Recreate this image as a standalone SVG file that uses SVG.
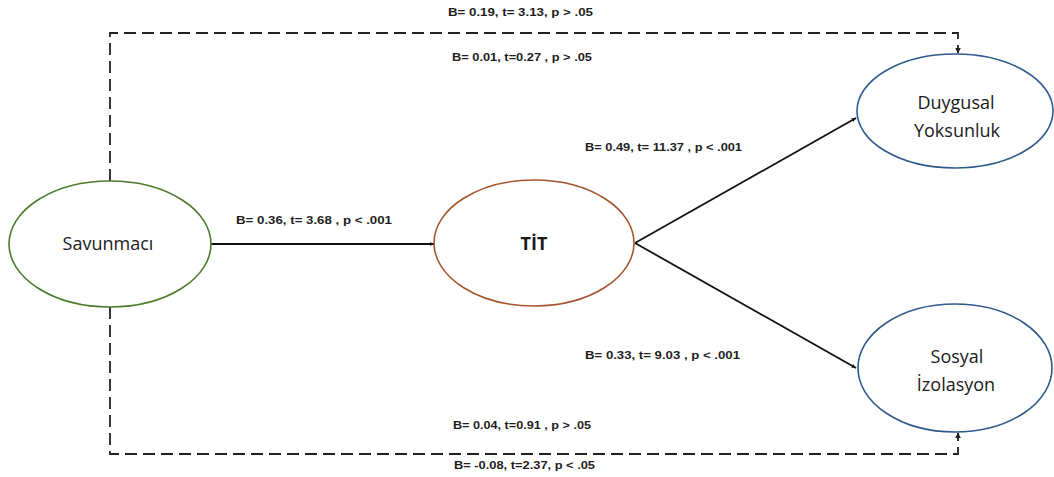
<svg xmlns="http://www.w3.org/2000/svg" width="1054" height="477" viewBox="0 0 1054 477">
  <style>
    .node { fill: #ffffff; stroke-width: 1.6; }
    .green { stroke: #4f7a2c; }
    .brown { stroke: #a4562e; }
    .blue { stroke: #2f5a8c; }
    .solid { fill: none; stroke: #111111; stroke-width: 1.8; }
    .dash { fill: none; stroke: #222222; stroke-width: 1.8; stroke-dasharray: 12 6; }
    .lbl { font-family: "Liberation Sans", Arial, sans-serif; font-size: 11px; font-weight: bold; fill: #1e1e1e; }
    .name { font-family: "Open Sans", "Liberation Sans", sans-serif; font-size: 18px; fill: #1a1a1a; text-anchor: middle; }
  </style>
  <defs>
    <marker id="arr" viewBox="0 0 10 10" refX="9" refY="5" markerWidth="5" markerHeight="5" orient="auto" markerUnits="userSpaceOnUse">
      <path d="M0,1 L10,5 L0,9 Z" fill="#111111"/>
    </marker>
    <marker id="arrD" viewBox="0 0 10 10" refX="9" refY="5" markerWidth="6" markerHeight="6" orient="auto" markerUnits="userSpaceOnUse">
      <path d="M0,0 L10,5 L0,10 Z" fill="#222222"/>
    </marker>
  </defs>
  <rect width="1054" height="477" fill="#ffffff"/>

  <g id="connectors">
    <!-- direct paths from Savunmacı (dashed) -->
    <path class="dash" d="M110,181 V33 H958 V53" marker-end="url(#arrD)"/>
    <path class="dash" d="M110,307 V454 H958 V433" marker-end="url(#arrD)"/>
    <!-- mediated paths -->
    <line class="solid" x1="211" y1="244" x2="434" y2="244" marker-end="url(#arr)"/>
    <line class="solid" x1="635" y1="243" x2="856" y2="118" marker-end="url(#arr)"/>
    <line class="solid" x1="635" y1="243" x2="856" y2="368" marker-end="url(#arr)"/>
  </g>

  <g id="labels">
    <text class="lbl" x="448" y="16" textLength="145" lengthAdjust="spacingAndGlyphs">B= 0.19, t= 3.13, p &gt; .05</text>
    <text class="lbl" x="452" y="61" textLength="140" lengthAdjust="spacingAndGlyphs">B= 0.01, t=0.27 , p &gt; .05</text>
    <text class="lbl" x="585" y="151" textLength="157" lengthAdjust="spacingAndGlyphs">B= 0.49, t= 11.37 , p &lt; .001</text>
    <text class="lbl" x="236" y="224" textLength="156" lengthAdjust="spacingAndGlyphs">B= 0.36, t= 3.68 , p &lt; .001</text>
    <text class="lbl" x="585" y="359" textLength="155" lengthAdjust="spacingAndGlyphs">B= 0.33, t= 9.03 , p &lt; .001</text>
    <text class="lbl" x="453" y="429" textLength="138" lengthAdjust="spacingAndGlyphs">B= 0.04, t=0.91 , p &gt; .05</text>
    <text class="lbl" x="454" y="469" textLength="141" lengthAdjust="spacingAndGlyphs">B= -0.08, t=2.37, p &lt; .05</text>
  </g>

  <g id="savunmaci">
    <ellipse class="node green" cx="110" cy="244" rx="101" ry="63"/>
    <text class="name" x="108" y="250">Savunmacı</text>
  </g>

  <g id="tit">
    <ellipse class="node brown" cx="534" cy="243" rx="100" ry="63"/>
    <text class="name" x="534" y="250" style="font-weight:bold">TİT</text>
  </g>

  <g id="duygusal-yoksunluk">
    <ellipse class="node blue" cx="955" cy="111" rx="98" ry="57"/>
    <text class="name" x="956" y="109">Duygusal</text>
    <text class="name" x="957" y="137">Yoksunluk</text>
  </g>

  <g id="sosyal-izolasyon">
    <ellipse class="node blue" cx="955" cy="368" rx="97" ry="64"/>
    <text class="name" x="957" y="363">Sosyal</text>
    <text class="name" x="956" y="391">İzolasyon</text>
  </g>
</svg>
